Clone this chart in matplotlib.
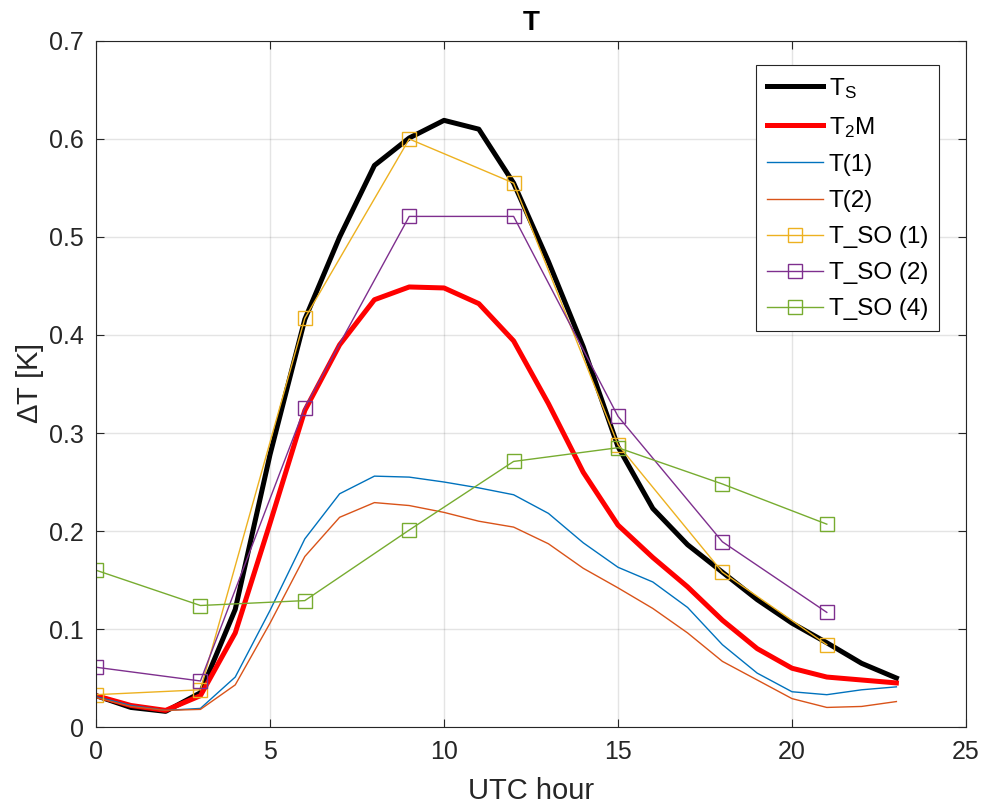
import matplotlib
matplotlib.use("Agg")
import matplotlib.pyplot as plt

plt.rcParams["font.family"] = ["Liberation Sans", "DejaVu Sans"]
plt.rcParams["mathtext.fontset"] = "custom"
plt.rcParams["mathtext.rm"] = "Liberation Sans"
plt.rcParams["mathtext.it"] = "Liberation Sans"

hours = list(range(24))
so_hours = [0, 3, 6, 9, 12, 15, 18, 21]

t_s = [0.032, 0.020, 0.016, 0.035, 0.120, 0.278, 0.416, 0.500, 0.573, 0.601,
       0.619, 0.610, 0.555, 0.475, 0.388, 0.286, 0.223, 0.186, 0.158, 0.130,
       0.106, 0.086, 0.065, 0.050]
t_2m = [0.032, 0.022, 0.017, 0.032, 0.096, 0.208, 0.323, 0.390, 0.436, 0.449,
        0.448, 0.432, 0.394, 0.330, 0.260, 0.206, 0.173, 0.143, 0.109, 0.080,
        0.060, 0.051, 0.048, 0.045]
t_1 = [0.031, 0.022, 0.017, 0.019, 0.051, 0.119, 0.192, 0.238, 0.256, 0.255,
       0.250, 0.244, 0.237, 0.218, 0.188, 0.163, 0.148, 0.122, 0.084, 0.055,
       0.036, 0.033, 0.038, 0.041]
t_2 = [0.030, 0.021, 0.017, 0.018, 0.043, 0.106, 0.174, 0.214, 0.229, 0.226,
       0.219, 0.210, 0.204, 0.187, 0.162, 0.142, 0.121, 0.096, 0.067, 0.048,
       0.029, 0.020, 0.021, 0.026]
t_so1 = [0.033, 0.038, 0.417, 0.600, 0.555, 0.288, 0.158, 0.084]
t_so2 = [0.061, 0.047, 0.326, 0.521, 0.521, 0.317, 0.189, 0.117]
t_so4 = [0.160, 0.124, 0.129, 0.201, 0.271, 0.285, 0.248, 0.207]

fig = plt.figure(figsize=(9.81, 8.08), dpi=100)
ax = fig.add_axes([0.0979, 0.1002, 0.8868, 0.8491])

ax.plot(hours, t_s, color="black", lw=3.6, label=r"T$_\mathrm{S}$")
ax.plot(hours, t_2m, color="#FF0000", lw=3.6, label=r"T$_\mathrm{2}$M")
ax.plot(hours, t_1, color="#0072BD", lw=1.0, label="T(1)")
ax.plot(hours, t_2, color="#D95319", lw=1.0, label="T(2)")
sq = dict(marker="s", markersize=10, markerfacecolor="none", markeredgewidth=1.0, lw=1.0)
ax.plot(so_hours, t_so1, color="#EDB120", label="T_SO (1)", **sq)
ax.plot(so_hours, t_so2, color="#7E2F8E", label="T_SO (2)", **sq)
ax.plot(so_hours, t_so4, color="#77AC30", label="T_SO (4)", **sq)

ax.set_xlim(0, 25)
ax.set_ylim(0, 0.7)
ax.set_xticks([0, 5, 10, 15, 20, 25])
ax.set_yticks([0, 0.1, 0.2, 0.3, 0.4, 0.5, 0.6, 0.7])
ax.set_yticklabels(["0", "0.1", "0.2", "0.3", "0.4", "0.5", "0.6", "0.7"])
ax.grid(True, color="#262626", alpha=0.12, lw=1.0)
ax.tick_params(direction="in", top=True, right=True, length=6, width=0.8,
               colors="#262626", labelsize=18, pad=9)
for sp in ax.spines.values():
    sp.set_color("#262626")
    sp.set_linewidth(0.8)

ax.set_title("T", fontsize=20, fontweight="bold", color="black", pad=8)
ax.set_xlabel("UTC hour", fontsize=21, color="#262626", labelpad=10)
ax.set_ylabel(r"$\Delta$T [K]", fontsize=21, color="#262626", labelpad=2)

leg = ax.legend(loc="upper right", bbox_to_anchor=(0.969, 0.965), borderaxespad=0,
                fontsize=17.5, handlelength=2.3, handletextpad=0.25,
                labelspacing=0.58, borderpad=0.45, fancybox=False, framealpha=1.0)
leg.get_frame().set_edgecolor("#262626")
leg.get_frame().set_linewidth(0.8)

fig.savefig("out.png", dpi=100)
